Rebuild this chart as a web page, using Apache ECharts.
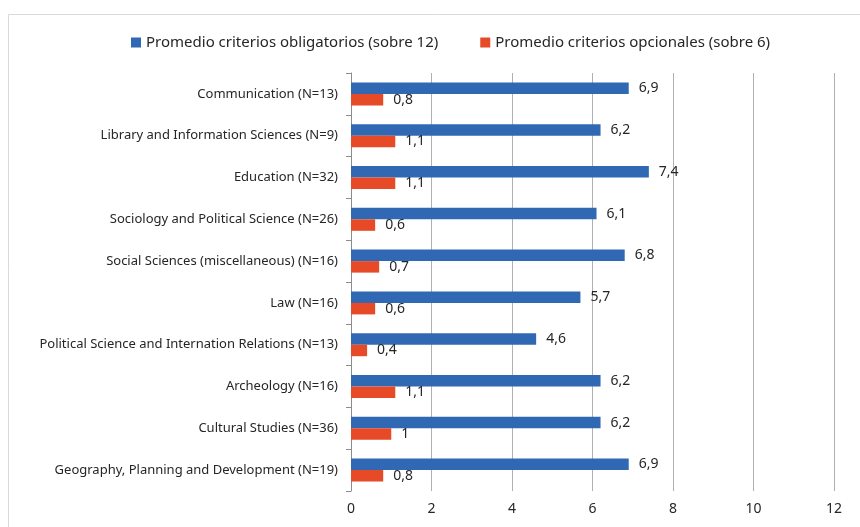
<!DOCTYPE html>
<html>
<head>
<meta charset="utf-8">
<script src="https://cdn.jsdelivr.net/npm/echarts@6/dist/echarts.min.js"></script>
<style>
  html, body { margin: 0; padding: 0; background: #fff; }
  #chart { width: 860px; height: 527px; }
</style>
</head>
<body>
<div id="chart"></div>
<script>
// categories, top to bottom
var categories = [
  "Communication (N=13)",
  "Library and Information Sciences (N=9)",
  "Education (N=32)",
  "Sociology and Political Science (N=26)",
  "Social Sciences (miscellaneous) (N=16)",
  "Law (N=16)",
  "Political Science and Internation Relations (N=13)",
  "Archeology (N=16)",
  "Cultural Studies (N=36)",
  "Geography, Planning and Development (N=19)"
];
var seriesNames = [
  "Promedio criterios obligatorios (sobre 12)",
  "Promedio criterios opcionales (sobre 6)"
];
var obligatorios = [6.9, 6.2, 7.4, 6.1, 6.8, 5.7, 4.6, 6.2, 6.2, 6.9];
var opcionales = [0.8, 1.1, 1.1, 0.6, 0.7, 0.6, 0.4, 1.1, 1, 0.8];
var xTicks = [0, 2, 4, 6, 8, 10, 12];

var FONT = "Noto Sans";
var TEXT = "#262626";
var colors = ["#3068B3", "#E64A27"];

// decimal comma like the original
function fmt(v) {
  return String(v).replace(".", ",");
}

var valueLabel = {
  show: true,
  position: "right",
  distance: 10,
  color: TEXT,
  fontSize: 14,
  fontFamily: FONT,
  formatter: function (p) { return fmt(p.value); }
};

var myChart = echarts.init(document.getElementById("chart"));
myChart.setOption({
  animation: false,
  color: colors,
  textStyle: { fontFamily: FONT },
  graphic: [
    {
      type: "rect",
      shape: { x: 8.5, y: 14.5, width: 900, height: 600 },
      style: { fill: null, stroke: "#d9d9d9", lineWidth: 1 },
      silent: true
    }
  ],
  legend: {
    top: 30,
    left: 126,
    itemWidth: 10,
    itemHeight: 10,
    itemGap: 42,
    icon: "rect",
    textStyle: { color: TEXT, fontSize: 15, fontFamily: FONT },
    data: seriesNames
  },
  grid: {
    left: 351,
    right: 26,
    top: 73,
    bottom: 36,
    containLabel: false
  },
  xAxis: {
    type: "value",
    min: xTicks[0],
    max: xTicks[xTicks.length - 1],
    interval: 2,
    axisLine: { show: false },
    axisTick: { show: false },
    axisLabel: {
      color: TEXT,
      fontSize: 14,
      margin: 11,
      fontFamily: FONT
    },
    splitLine: {
      show: true,
      lineStyle: { color: "#b0b0b0", width: 1 }
    }
  },
  yAxis: {
    type: "category",
    inverse: true,
    data: categories,
    axisLine: { show: true, lineStyle: { color: "#8c8c8c", width: 1 } },
    axisTick: {
      show: true,
      length: 5,
      lineStyle: { color: "#8c8c8c" }
    },
    axisLabel: {
      color: TEXT,
      fontSize: 13,
      margin: 13,
      fontFamily: FONT
    }
  },
  series: [
    {
      name: seriesNames[0],
      type: "bar",
      barWidth: 11.5,
      barGap: "0%",
      data: obligatorios,
      label: valueLabel
    },
    {
      name: seriesNames[1],
      type: "bar",
      barWidth: 11.5,
      barGap: "0%",
      data: opcionales,
      label: valueLabel
    }
  ]
});
</script>
</body>
</html>
